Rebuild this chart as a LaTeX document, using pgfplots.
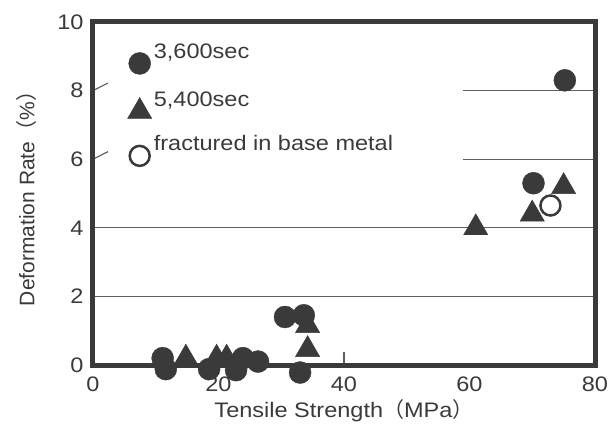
\documentclass[border=0pt]{standalone}
\usepackage{fontspec}
\setmainfont{Liberation Sans}[FakeStretch=1.12]
\newfontfamily\plainsans{Liberation Sans}
\newfontfamily\cjk{Noto Sans CJK JP}
\usepackage{pgfplots}
\pgfplotsset{compat=1.18}
\definecolor{ink}{RGB}{58,58,58}
\definecolor{gridc}{RGB}{95,95,95}

\begin{document}
\begin{tikzpicture}
\begin{axis}[
    scale only axis,
    width=502pt, height=343pt,
    xmin=0, xmax=80, ymin=0, ymax=10,
    xtick={0,20,40,60,80},
    ytick={0,2,4,6,8,10},
    axis on top,
    axis line style={line width=5pt, draw=ink},
    xtick pos=bottom, ytick pos=left,
    tick style={draw=none},
    /pgf/number format/assume math mode=true,
    tick label style={font=\fontsize{21}{25}\selectfont, text=ink},
    xticklabel style={yshift=-8pt},
    yticklabel style={xshift=-6pt},
    xlabel={Tensile Strength{\cjk （}MPa{\cjk ）}},
    ylabel={\plainsans Deformation Rate{\cjk （}\%{\cjk ）}},
    xlabel style={font=\fontsize{21}{25}\selectfont, text=ink, yshift=-1pt},
    ylabel style={font=\fontsize{21}{25}\selectfont, text=ink, yshift=14pt},
    clip=false,
    legend style={at={(axis cs:5.0,9.5)}, anchor=north west, draw=none, fill=none,
        font=\fontsize{21}{25}\selectfont, text=ink, row sep=15pt,
        /tikz/every even column/.append style={column sep=0pt}},
    legend cell align=left,
    legend image code/.code={\draw[#1] plot[only marks] coordinates {(4pt,-12pt)};},
]
\coordinate (sw) at (rel axis cs:0,0);
\coordinate (ne) at (rel axis cs:1,1);
% partial grid lines and short left ticks
\draw[gridc, line width=1.2pt] (axis cs:0,2) -- (axis cs:80,2);
\draw[gridc, line width=1.2pt] (axis cs:0,4) -- (axis cs:80,4);
\draw[gridc, line width=1.2pt] (axis cs:59,6) -- (axis cs:80,6);
\draw[gridc, line width=1.2pt] (axis cs:59,8) -- (axis cs:80,8);
\draw[gridc, line width=1.2pt] (axis cs:0,6) -- ++(15pt,0);
\draw[gridc, line width=1.2pt] (axis cs:0,8) -- ++(15pt,0);
\draw[gridc, line width=1.2pt] (axis cs:40,0) -- ++(0,5pt);

% 3,600 sec
\addplot[only marks, mark=*, mark size=11pt, mark options={fill=ink, draw=ink}] coordinates {
    (11.6,-0.12) (18.5,-0.12) (22.8,-0.15) (33.0,-0.22)
    (11.1,0.2) (23.9,0.2) (26.3,0.1) (30.6,1.4) (33.6,1.45) (70.2,5.3) (75.2,8.3)
};
\addlegendentry{3,600sec}
% 5,400 sec
\addplot[only marks, mark=triangle*, mark size=14pt, mark options={fill=ink, draw=ink}] coordinates {
    (14.8,0.2) (19.7,0.2) (21.3,0.2) (34.2,1.15) (34.2,0.45) (61.0,4.0) (70.0,4.4) (75.0,5.2)
};
\addlegendentry{5,400sec}
% fractured in base metal
\addplot[only marks, mark=o, mark size=10pt, mark options={draw=ink, line width=2.5pt, fill=white}] coordinates {
    (72.9,4.65)
};
\addlegendentry{fractured in base metal}
\end{axis}
\pgfresetboundingbox
\path[use as bounding box] ([xshift=-93pt,yshift=-76pt]sw) rectangle ([xshift=21pt,yshift=22pt]ne);
\end{tikzpicture}
\end{document}
